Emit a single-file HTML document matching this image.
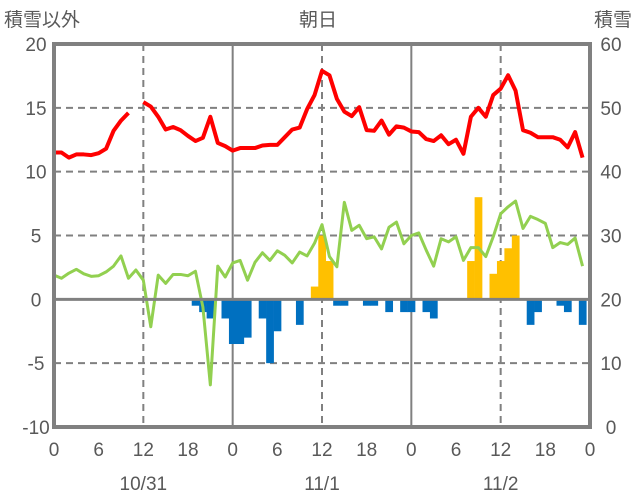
<!DOCTYPE html>
<html><head><meta charset="utf-8"><style>
body{margin:0;background:#fff;}
svg{display:block;font-family:"Liberation Sans","Noto Sans CJK JP",sans-serif;}
</style></head><body>
<svg id="chart" width="636" height="501" viewBox="0 0 636 501">
<g id="grid"></g>
<g id="bars"></g>
<g id="lines"></g>
<g id="frame"></g>
<g id="labels" fill="#595959" font-size="19">
<text x="4" y="26" font-size="19">積雪以外</text>
<text x="318" y="26" text-anchor="middle">朝日</text>
<text x="632" y="26" text-anchor="end">積雪</text>
</g>
</svg>
<script>
const redValues=[11.5,11.5,11.1,11.35,11.35,11.3,11.45,11.8,13.2,14.0,14.6,null,15.45,15.1,14.3,13.3,13.5,13.25,12.8,12.4,12.65,14.3,12.25,12.0,11.65,11.85,11.85,11.85,12.05,12.1,12.1,12.7,13.3,13.45,14.9,16.0,17.9,17.55,15.7,14.7,14.35,15.05,13.25,13.2,14.0,12.9,13.55,13.45,13.15,13.1,12.55,12.4,12.85,12.15,12.5,11.4,14.3,15.0,14.3,16.0,16.5,17.55,16.35,13.25,13.05,12.7,12.7,12.7,12.5,11.9,13.1,11.1];
const snowDepth=[23.8,23.3,24.1,24.7,24.0,23.6,23.7,24.3,25.2,26.8,23.3,24.6,23.0,15.7,23.8,22.5,23.9,23.9,23.7,24.4,18.8,6.6,25.2,23.5,25.7,26.1,23.0,25.8,27.3,26.1,27.6,26.9,25.7,27.4,26.8,28.8,31.7,26.7,25.1,35.2,30.8,31.6,29.5,29.8,27.9,31.3,32.1,28.7,30.0,30.4,27.7,25.2,29.5,29.0,29.8,26.1,28.1,28.1,26.7,29.8,33.4,34.5,35.4,31.1,33.0,32.5,31.9,28.1,28.9,28.6,29.6,25.2];
const barHours=[19,20,21,23,24,25,26,28,29,30,33,35,36,37,38,39,42,43,45,47,48,50,51,56,57,59,60,61,62,64,65,68,69,71];
const barValues=[-0.5,-1,-1.5,-1.5,-3.5,-3.5,-3,-1.5,-5,-2.5,-2,1,5,3,-0.5,-0.5,-0.5,-0.5,-1,-1,-1,-1,-1.5,3,8,2,3,4,5,-2,-1,-0.5,-1,-2];
const leftTicks=[20,15,10,5,0,-5,-10];
const rightTicks=[60,50,40,30,20,10,0];
const hourTicks=[0,6,12,18,24,30,36,42,48,54,60,66,72];
const hourLabels=["0","6","12","18","0","6","12","18","0","6","12","18","0"];
const dateLabels=["10/31","11/1","11/2"];
const dateHours=[12,36,60];

const NS="http://www.w3.org/2000/svg";
const X0=54,X1=590,Y0=44,Y1=427;
const x=h=>X0+(X1-X0)*h/72;
const yL=v=>Y1-(v+10)/30*(Y1-Y0);
const yR=v=>Y1-v/60*(Y1-Y0);
function mk(tag,attrs,parent){const e=document.createElementNS(NS,tag);for(const k in attrs)e.setAttribute(k,attrs[k]);parent.appendChild(e);return e;}
const grid=document.getElementById('grid'),bars=document.getElementById('bars'),lines=document.getElementById('lines'),frame=document.getElementById('frame'),labels=document.getElementById('labels');
leftTicks.forEach((v,i)=>{
  if(v!==20&&v!==-10&&v!==0){const l=mk('line',{x1:X0,x2:X1,y1:yL(v),y2:yL(v),stroke:'#808080','stroke-width':2,'stroke-dasharray':'7,5'},grid);
  
  }
  const t=mk('text',{x:36,y:yL(v)+7,'text-anchor':'middle'},labels);t.textContent=String(v);
  
  
  const r=mk('text',{x:611,y:yR(rightTicks[i])+7,'text-anchor':'middle'},labels);r.textContent=String(rightTicks[i]);
  
  
});
[12,24,36,48,60].forEach(h=>{
  const solid=(h%24===0);
  const l=mk('line',{x1:x(h),x2:x(h),y1:Y0,y2:Y1,stroke:'#808080','stroke-width':2},grid);
  if(!solid)l.setAttribute('stroke-dasharray','7,5');
  
  
});
hourTicks.forEach((h,i)=>{
  const t=mk('text',{x:x(h),y:456,'text-anchor':'middle'},labels);t.textContent=hourLabels[i];
  
  
});
dateHours.forEach((h,i)=>{
  const t=mk('text',{x:x(h),y:490,'text-anchor':'middle'},labels);t.textContent=dateLabels[i];
  
  
});
const bw=(X1-X0)/72;
barHours.forEach((h,i)=>{
  const v=barValues[i];
  const y1=yL(Math.max(v,0)),y2=yL(Math.min(v,0));
  const b=mk('rect',{x:x(h)-bw/2,y:y1,width:bw+0.3,height:y2-y1,fill:v>0?'#FFC000':'#0070C0'},bars);
  
  
});
const z=mk('line',{x1:X0,x2:X1,y1:yL(0),y2:yL(0),stroke:'#808080','stroke-width':3},frame);


let d='';snowDepth.forEach((v,i)=>{d+=(i?'L':'M')+x(i)+','+yR(v);});
const g=mk('path',{d:d,fill:'none',stroke:'#92D050','stroke-width':3,'stroke-linejoin':'round'},lines);


let rd='',pen=false;redValues.forEach((v,i)=>{if(v===null){pen=false;return;}rd+=(pen?'L':'M')+x(i)+','+yL(v);pen=true;});
const r=mk('path',{d:rd,fill:'none',stroke:'#FF0000','stroke-width':4,'stroke-linejoin':'round'},lines);


const f=mk('rect',{x:X0,y:Y0,width:X1-X0,height:Y1-Y0,fill:'none',stroke:'#808080','stroke-width':4},frame);


</script>
</body></html>
